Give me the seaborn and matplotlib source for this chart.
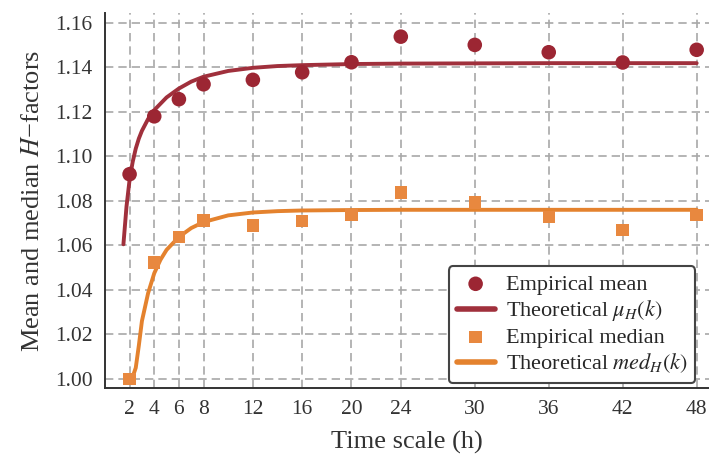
import numpy as np
import pandas as pd
import matplotlib
matplotlib.use("Agg")
import matplotlib.pyplot as plt
import seaborn as sns

# Données
time_scale = [2, 4, 6, 8, 12, 16, 20, 24, 30, 36, 42, 48]
emp_mean = [1.092, 1.118, 1.1257, 1.1324, 1.1344, 1.1378, 1.1423, 1.1538, 1.1501, 1.1468, 1.1422, 1.1479]
emp_median = [1.000, 1.0524, 1.0637, 1.0712, 1.0689, 1.0709, 1.0737, 1.0837, 1.0792, 1.0727, 1.0670, 1.0737]

# Courbes théoriques (points lus le long des courbes)
k_mean = [1.5, 1.75, 2, 2.25, 2.5, 2.75, 3, 3.5, 4, 5, 6, 7, 8, 10, 12, 14, 16, 20, 24, 30, 36, 42, 48]
theo_mean = [1.0605, 1.0775, 1.0895, 1.0975, 1.1035, 1.108, 1.1115, 1.1168, 1.1208, 1.1265, 1.1305,
             1.1336, 1.1358, 1.1384, 1.1398, 1.1406, 1.141, 1.1415, 1.1417, 1.1418, 1.1419, 1.1419, 1.1419]
k_med = [2, 2.25, 2.5, 2.75, 3, 3.5, 4, 4.5, 5, 6, 7, 8, 10, 12, 14, 16, 20, 24, 30, 36, 42, 48]
theo_med = [1.000, 1.001, 1.005, 1.015, 1.026, 1.0385, 1.0475, 1.0535, 1.058, 1.0638, 1.0678, 1.0705,
            1.0735, 1.0748, 1.0754, 1.0757, 1.0759, 1.076, 1.076, 1.076, 1.076, 1.076]

df_emp = pd.DataFrame({"k": time_scale, "mean": emp_mean, "median": emp_median})
df_mean = pd.DataFrame({"k": k_mean, "val": theo_mean})
df_med = pd.DataFrame({"k": k_med, "val": theo_med})

sns.set_theme(style="whitegrid")
plt.rcParams["font.family"] = ["Liberation Serif", "DejaVu Serif"]
plt.rcParams["mathtext.fontset"] = "stix"

red_pt, red_ln = "#9c2633", "#a0303c"
org_pt, org_ln = "#e8883f", "#e4822e"

fig = plt.figure(figsize=(7.09, 4.59), dpi=100)
ax = fig.add_axes([0.148, 0.155, 0.852, 0.817])

sns.scatterplot(data=df_emp, x="k", y="mean", ax=ax, marker="o", s=110, color=red_pt,
                edgecolor="none", label="Empirical mean", zorder=4)
sns.lineplot(data=df_mean, x="k", y="val", ax=ax, color=red_ln, linewidth=2.8,
             label=r"Theoretical $\mu_H(k)$", zorder=3)
sns.scatterplot(data=df_emp, x="k", y="median", ax=ax, marker="s", s=80, color=org_pt,
                edgecolor="none", label="Empirical median", zorder=4)
sns.lineplot(data=df_med, x="k", y="val", ax=ax, color=org_ln, linewidth=2.8,
             label=r"Theoretical $med_H(k)$", zorder=3)

ax.set_xlim(0, 49)
ax.set_ylim(0.996, 1.1645)
ax.set_xticks(time_scale)
ax.set_yticks(np.arange(1.00, 1.161, 0.02))
ax.set_yticklabels([f"{v:.2f}" for v in np.arange(1.00, 1.161, 0.02)])

ax.grid(True, color="#a8a8a8", linestyle=(0, (5, 3)), linewidth=1.2)
for side in ["top", "right"]:
    ax.spines[side].set_visible(False)
for side in ["left", "bottom"]:
    ax.spines[side].set_color("#333333")
    ax.spines[side].set_linewidth(1.4)
ax.tick_params(axis="both", direction="out", length=4, width=1.2, color="#333333",
               labelsize=15.5, labelcolor="#333333", pad=5)

ax.set_xlabel("Time scale (h)", fontsize=19, color="#333333", labelpad=8)
ax.set_ylabel("Mean and median $H$\u2212factors", fontsize=19, color="#333333", labelpad=8)

leg = ax.legend(loc="lower right", bbox_to_anchor=(0.977, 0.013), borderaxespad=0,
                fontsize=16, frameon=True, fancybox=True, framealpha=1,
                handlelength=1.7, handletextpad=0.5, labelspacing=0.17, borderpad=0.35)
leg.get_frame().set_edgecolor("#444444")
leg.get_frame().set_linewidth(1.5)
for h in leg.legend_handles:
    if hasattr(h, "set_linewidth") and not hasattr(h, "get_offsets"):
        h.set_linewidth(4)

plt.savefig("out.png", dpi=100)
